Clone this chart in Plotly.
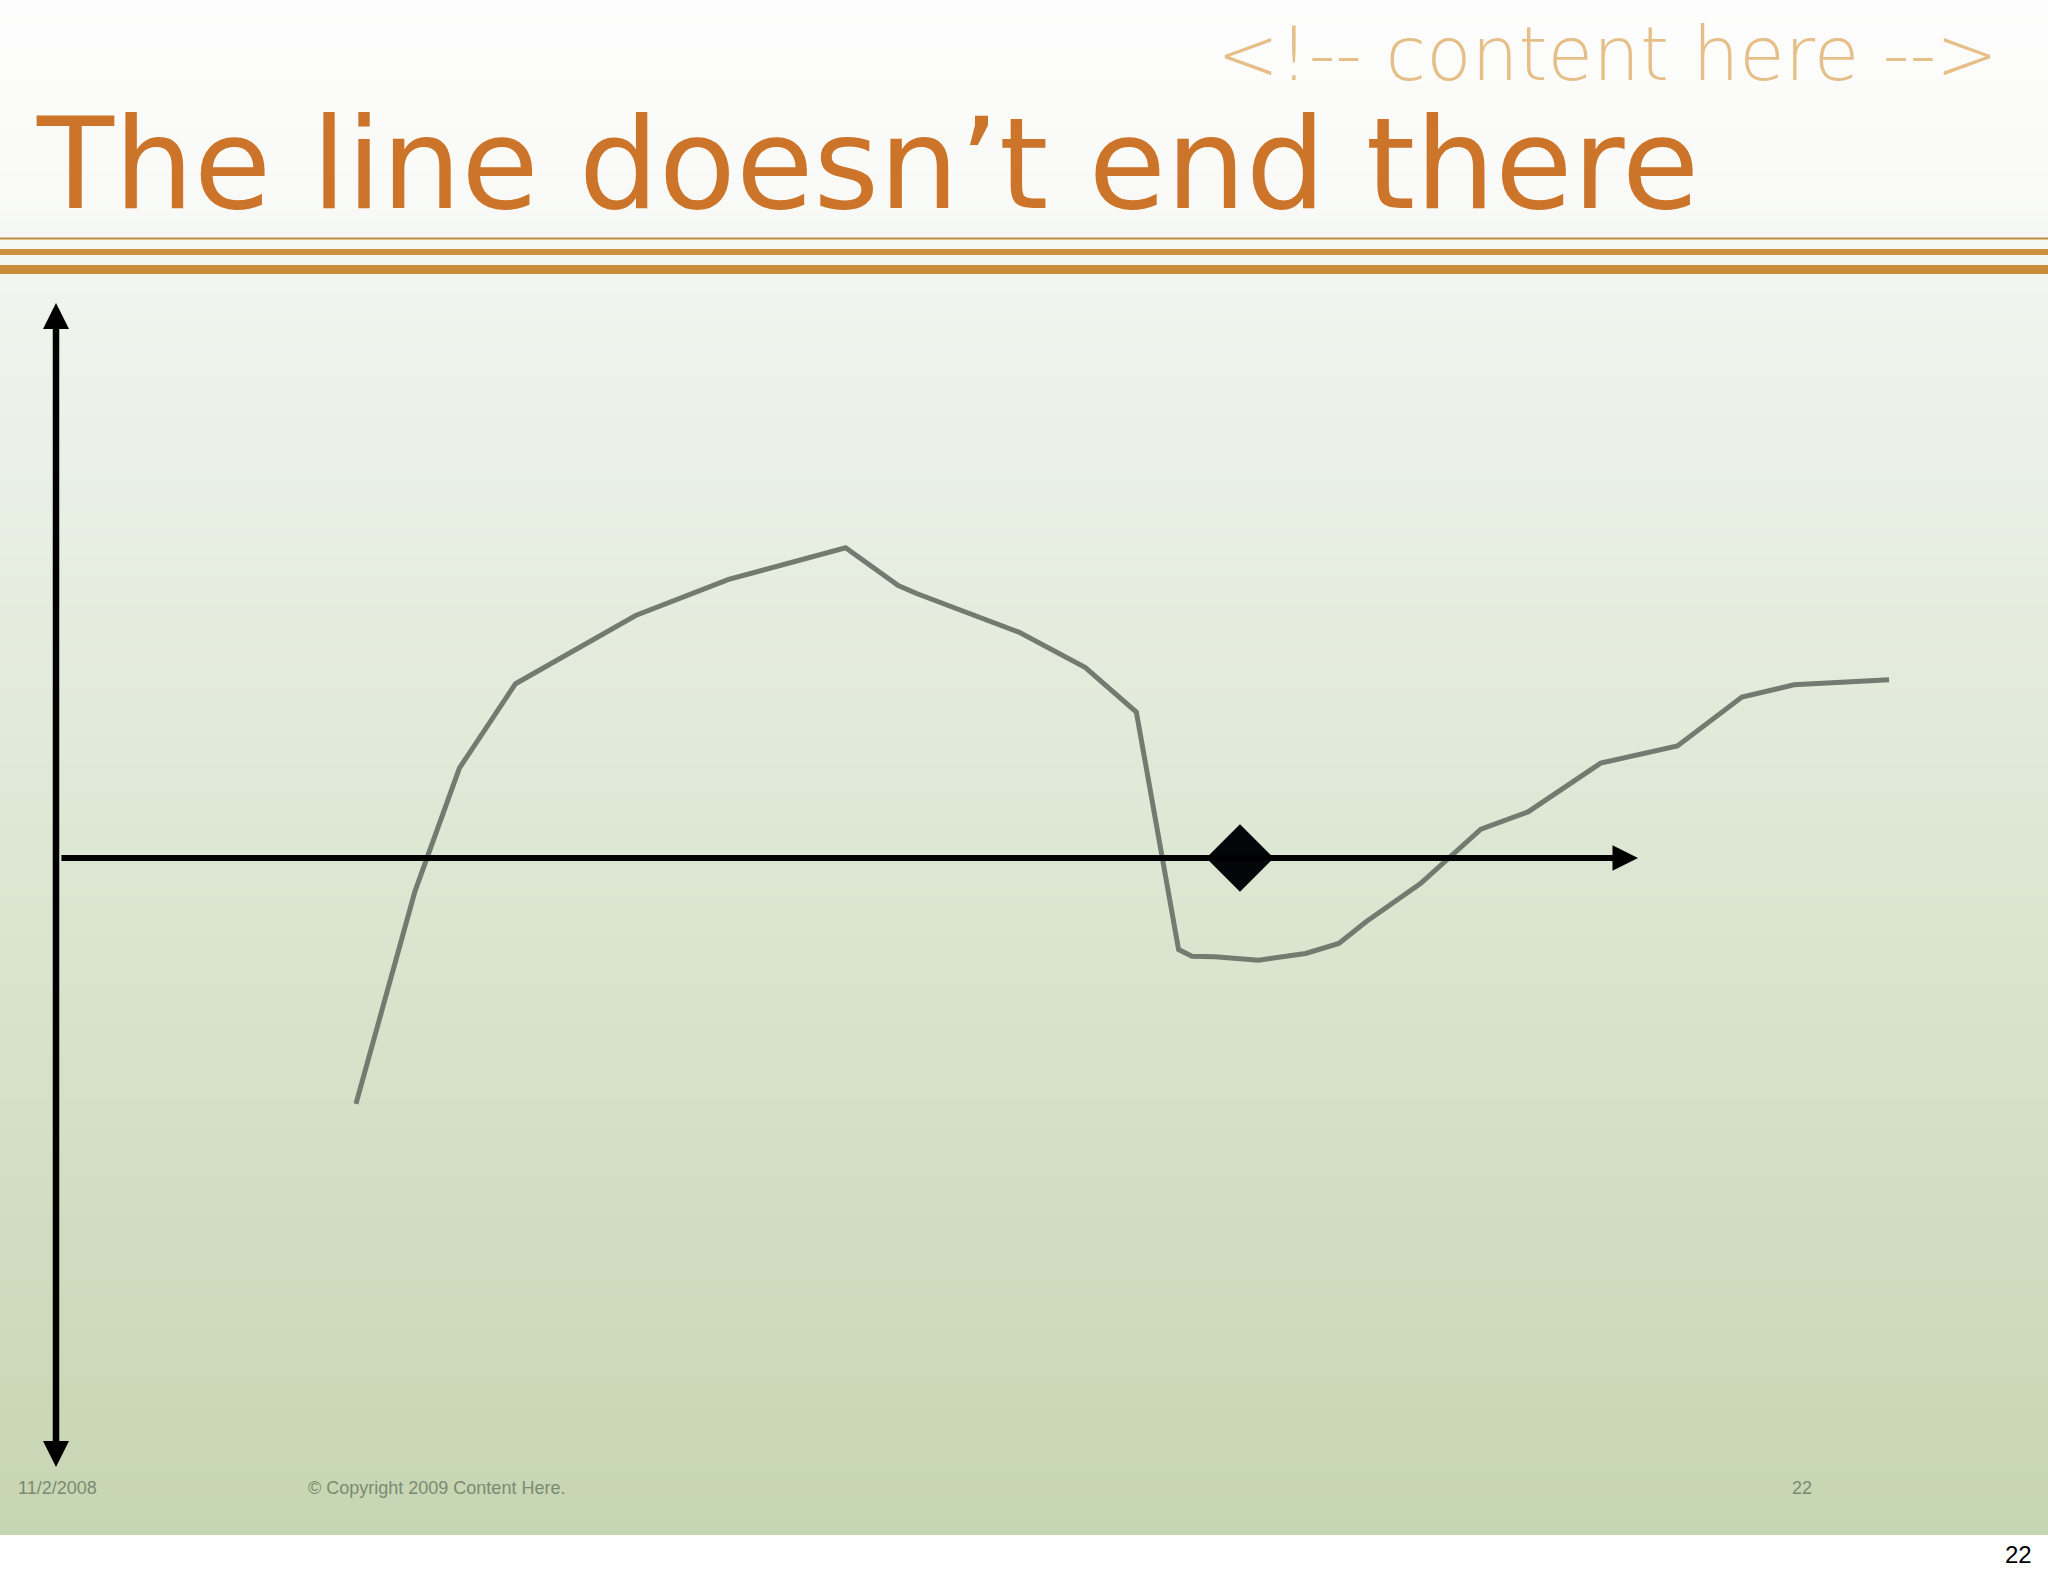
import plotly.graph_objects as go

# ---------------- data ----------------
# curve values (x: time units, y: value; horizontal axis at y = 0)
x_vals = [18.96, 22.69, 25.50, 29.05, 36.64, 42.52, 49.91, 51.30, 52.30, 53.24, 54.36,
          60.86, 65.07, 68.29, 70.96, 71.80, 73.26, 76.01, 78.99, 81.09, 82.81,
          86.25, 90.07, 93.05, 97.64, 102.49, 106.57, 109.86, 115.87]
y_vals = [-44.3, -6.0, 16.2, 31.4, 43.7, 50.2, 55.9, 53.1, 51.0, 49.1, 47.7,
          40.7, 34.3, 26.3, -16.5, -17.7, -17.8, -18.4, -17.2, -15.4, -11.5,
          -4.6, 5.2, 8.3, 17.1, 20.2, 29.0, 31.2, 32.1]

marker_x = [74.84]
marker_y = [0.0]

# axis arrows (data units)
h_axis = dict(start=0.25, end=100.0)
v_axis = dict(top=100.0, bottom=-110.0)

title_text = "The line doesn\u2019t end there"
header_text = "<!-- content here -->"
footer_date = "11/2/2008"
footer_copy = "\u00a9 Copyright 2009 Content Here."
footer_page = "22"
page_number = "22"

# ---------------- layout geometry ----------------
W, H = 2048, 1576
PX_PER_X = 15.82
PX_PER_Y = 5.55
X0_PX, Y0_PX = 56, 858  # pixel position of origin


def px(xp):
    return xp / W


def py(yp):
    return 1 - yp / H


fig = go.Figure()

# background gradient bands
stops = [(0, (253, 253, 253)), (200, (249, 250, 247)), (300, (239, 244, 238)),
         (1000, (217, 227, 204)), (1535, (198, 213, 178))]


def col_at(yp):
    for (y1, c1), (y2, c2) in zip(stops[:-1], stops[1:]):
        if y1 <= yp <= y2:
            t = (yp - y1) / (y2 - y1)
            return tuple(round(a + (b - a) * t) for a, b in zip(c1, c2))
    return stops[-1][1]


shapes = []
band = 6
y = 0
while y < 1535:
    y2 = min(y + band, 1535)
    c = col_at((y + y2) / 2)
    shapes.append(dict(type="rect", xref="paper", yref="paper", x0=0, x1=1,
                       y0=py(y2), y1=py(y), line=dict(width=0),
                       fillcolor="rgb(%d,%d,%d)" % c, layer="below"))
    y = y2

# header rules
for yp, w, c in [(238.5, 2, "#bf8c3c"), (252, 6, "#cc8f3e"), (269.5, 9, "#c98c3b")]:
    shapes.append(dict(type="line", xref="paper", yref="paper", x0=0, x1=1,
                       y0=py(yp), y1=py(yp), line=dict(color=c, width=w), layer="below"))

# curve
fig.add_trace(go.Scatter(x=x_vals, y=y_vals, mode="lines",
                         line=dict(color="#737a70", width=5),
                         hoverinfo="skip", showlegend=False))

annotations = []
# horizontal axis arrow
annotations.append(dict(x=h_axis["end"], y=0, ax=h_axis["start"], ay=0,
                        xref="x", yref="y", axref="x", ayref="y", text="",
                        showarrow=True, arrowhead=2, arrowsize=0.85, arrowwidth=6,
                        arrowcolor="#000000", standoff=0, startstandoff=0))
# vertical axis double arrow
annotations.append(dict(x=0, y=v_axis["top"], ax=0, ay=v_axis["bottom"],
                        xref="x", yref="y", axref="x", ayref="y", text="",
                        showarrow=True, arrowhead=2, startarrowhead=2,
                        arrowside="end+start", arrowsize=0.8, startarrowsize=0.8,
                        arrowwidth=6.5, arrowcolor="#000000", standoff=0, startstandoff=0))

# diamond marker
fig.add_trace(go.Scatter(x=marker_x, y=marker_y, mode="markers",
                         marker=dict(symbol="diamond", size=52, color="#030608",
                                     line=dict(width=0)),
                         hoverinfo="skip", showlegend=False))

# texts
annotations.append(dict(text=title_text, xref="paper", yref="paper",
                        x=px(34), y=py(164), xanchor="left", yanchor="middle",
                        showarrow=False,
                        font=dict(family="DejaVu Sans", size=126, color="#cc742a")))
annotations.append(dict(text=header_text, xref="paper", yref="paper",
                        x=px(2000), y=py(54), xanchor="right", yanchor="middle",
                        showarrow=False,
                        font=dict(family="DejaVu Sans", size=74, color="#e6bf88",
                                  weight=200)))
foot_font = dict(family="Liberation Sans, Arial, sans-serif", size=18, color="#7b8a72")
annotations.append(dict(text=footer_date, xref="paper", yref="paper",
                        x=px(16), y=py(1488), xanchor="left", yanchor="middle",
                        showarrow=False, font=foot_font))
annotations.append(dict(text=footer_copy, xref="paper", yref="paper",
                        x=px(306), y=py(1488), xanchor="left", yanchor="middle",
                        showarrow=False, font=foot_font))
annotations.append(dict(text=footer_page, xref="paper", yref="paper",
                        x=px(1790), y=py(1488), xanchor="left", yanchor="middle",
                        showarrow=False, font=foot_font))
annotations.append(dict(text=page_number, xref="paper", yref="paper",
                        x=px(2034), y=py(1554), xanchor="right", yanchor="middle",
                        showarrow=False,
                        font=dict(family="Liberation Sans, Arial, sans-serif", size=24,
                                  color="#000000")))

x_range = [(0 - X0_PX) / PX_PER_X, (W - X0_PX) / PX_PER_X]
y_range = [(Y0_PX - H) / PX_PER_Y, Y0_PX / PX_PER_Y]

fig.update_layout(
    width=W, height=H, autosize=False,
    margin=dict(l=0, r=0, t=0, b=0, pad=0),
    paper_bgcolor="#ffffff", plot_bgcolor="rgba(0,0,0,0)",
    xaxis=dict(range=x_range, visible=False, fixedrange=True),
    yaxis=dict(range=y_range, visible=False, fixedrange=True),
    shapes=shapes, annotations=annotations, showlegend=False,
)

fig.write_html("out.html", config={"displayModeBar": False},
               post_script="document.body.style.margin='0';")
